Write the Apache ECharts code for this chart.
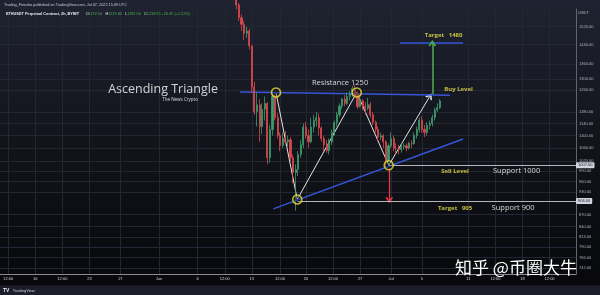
<!DOCTYPE html>
<html><head><meta charset="utf-8">
<script src="https://cdn.jsdelivr.net/npm/echarts@6/dist/echarts.min.js"></script>
<style>html,body{margin:0;padding:0;background:#0c0d12}#c{width:600px;height:295px}</style>
</head><body><div id="c"></div>
<script>
// ---- candle data (8h candles, ETHUSDT) ----
const candleTimes = [
'2022-06-10 00:00','2022-06-10 08:00','2022-06-10 16:00','2022-06-11 00:00','2022-06-11 08:00','2022-06-11 16:00',
'2022-06-12 00:00','2022-06-12 08:00','2022-06-12 16:00','2022-06-13 00:00','2022-06-13 08:00','2022-06-13 16:00',
'2022-06-14 00:00','2022-06-14 08:00','2022-06-14 16:00','2022-06-15 00:00','2022-06-15 08:00','2022-06-15 16:00',
'2022-06-16 00:00','2022-06-16 08:00','2022-06-16 16:00','2022-06-17 00:00','2022-06-17 08:00','2022-06-17 16:00',
'2022-06-18 00:00','2022-06-18 08:00','2022-06-18 16:00','2022-06-19 00:00','2022-06-19 08:00','2022-06-19 16:00',
'2022-06-20 00:00','2022-06-20 08:00','2022-06-20 16:00','2022-06-21 00:00','2022-06-21 08:00','2022-06-21 16:00',
'2022-06-22 00:00','2022-06-22 08:00','2022-06-22 16:00','2022-06-23 00:00','2022-06-23 08:00','2022-06-23 16:00',
'2022-06-24 00:00','2022-06-24 08:00','2022-06-24 16:00','2022-06-25 00:00','2022-06-25 08:00','2022-06-25 16:00',
'2022-06-26 00:00','2022-06-26 08:00','2022-06-26 16:00','2022-06-27 00:00','2022-06-27 08:00','2022-06-27 16:00',
'2022-06-28 00:00','2022-06-28 08:00','2022-06-28 16:00','2022-06-29 00:00','2022-06-29 08:00','2022-06-29 16:00',
'2022-06-30 00:00','2022-06-30 08:00','2022-06-30 16:00','2022-07-01 00:00','2022-07-01 08:00','2022-07-01 16:00',
'2022-07-02 00:00','2022-07-02 08:00','2022-07-02 16:00','2022-07-03 00:00','2022-07-03 08:00','2022-07-03 16:00',
'2022-07-04 00:00','2022-07-04 08:00','2022-07-04 16:00','2022-07-05 00:00','2022-07-05 08:00','2022-07-05 16:00',
'2022-07-06 00:00','2022-07-06 08:00','2022-07-06 16:00','2022-07-07 00:00','2022-07-07 08:00'];
const opens = [1790,1770,1700,1665,1620,1560,1530,1490,1500,1435,1270,1180,1205,1130,1190,1210,1030,1120,
1235,1160,1100,1068,1090,1080,1086,1030,985,995,1040,1070,1128,1100,1080,1128,1150,1160,1125,1090,1070,
1052,1080,1110,1143,1170,1200,1226,1210,1235,1243,1265,1245,1199,1220,1200,1193,1205,1170,1144,1120,1095,
1099,1080,1020,1067,1090,1060,1059,1055,1065,1067,1060,1075,1074,1100,1120,1151,1120,1110,1134,1140,1160,1187,1195];
const closes = [1770,1700,1665,1620,1560,1530,1490,1500,1435,1270,1180,1205,1130,1190,1210,1030,1120,1235,
1160,1100,1068,1090,1080,1086,1030,985,995,1040,1070,1128,1100,1080,1128,1150,1160,1125,1090,1070,1052,
1080,1110,1143,1170,1200,1226,1210,1235,1243,1265,1245,1199,1220,1200,1193,1205,1170,1144,1120,1095,1099,
1080,1020,1067,1090,1060,1059,1055,1065,1067,1060,1075,1074,1100,1120,1151,1120,1110,1134,1140,1160,1187,1195,1218.95];
const lows = [1760,1690,1650,1600,1545,1500,1460,1470,1420,1250,1170,1130,1080,1105,1150,1010,1015,1100,
1150,1090,1050,1060,1070,1065,1020,955,880,975,1030,1060,1090,1060,1075,1110,1130,1100,1080,1050,1045,
1040,1070,1100,1130,1160,1190,1200,1205,1220,1235,1230,1190,1195,1185,1170,1185,1160,1135,1110,1080,1085,
1060,1000,1010,1060,1050,1040,1040,1045,1055,1050,1055,1060,1070,1090,1110,1110,1095,1100,1120,1130,1150,1180,1190];
const highs = [1800,1775,1710,1680,1630,1575,1545,1520,1510,1440,1290,1250,1225,1210,1235,1215,1135,1250,
1245,1175,1110,1110,1115,1100,1095,1040,1010,1050,1085,1140,1145,1120,1160,1170,1180,1175,1130,1100,1085,
1090,1120,1150,1180,1210,1230,1240,1250,1255,1275,1280,1255,1235,1225,1215,1230,1215,1180,1150,1130,1110,
1105,1085,1075,1110,1100,1075,1070,1075,1075,1075,1080,1085,1110,1130,1160,1165,1135,1145,1150,1170,1195,1210,1225];

// ---- axes ----
const xRange = ['2022-05-11 10:30', '2022-07-24 22:00'];
const priceRange = [729.5, 1601];
const priceTicks = [1520,1440,1360,1300,1260,1180,1140,1100,1060,1020,990,960,930,870,840,814,790,766,742];
const timeTicks = ['2022-05-12 12:00','2022-05-16 00:00','2022-05-19 12:00','2022-05-23 00:00','2022-05-27 00:00',
'2022-06-01 00:00','2022-06-06 00:00','2022-06-09 12:00','2022-06-13 00:00','2022-06-16 15:30','2022-06-20 00:00',
'2022-06-23 12:00','2022-06-27 00:00','2022-07-01 00:00','2022-07-05 00:00','2022-07-11 00:00','2022-07-14 12:00',
'2022-07-18 00:00','2022-07-21 12:00'];
const timeTickLabels = ['12:00','16','12:00','23','27','Jun','6','12:00','13','12:00','20','12:00','27','Jul','5','11','12:00','18','12:00'];

// ---- drawings ----
const pivotTimes = ['2022-06-16 03:00','2022-06-18 21:00','2022-06-26 13:40','2022-06-30 16:50'];
const pivotPrices = [1250, 910, 1250, 1007];
const legEndTime = '2022-07-06 01:00', legEndPrice = 1237;
const resistanceTimes = ['2022-06-11 11:20','2022-07-08 15:10'], resistancePrices = [1252, 1240];
const supportTimes = ['2022-06-15 18:45','2022-07-10 07:30'], supportPrices = [885, 1089];
const target1480Times = ['2022-07-02 04:00','2022-07-10 07:30'], target1480Price = 1450;
const buyArrowTime = '2022-07-06 08:10', buyArrowPrices = [1244, 1447];
const sellArrowTime = '2022-06-30 18:30', sellArrowPrices = [998, 908];
const support1000Price = 1007, target905Price = 906;
const whiteNotes = ['Resistance 1250','Support 1000','Support 900'];
const whiteNoteTimes = ['2022-06-24 09:50','2022-07-17 05:30','2022-07-16 18:40'];
const whiteNotePrices = [1285, 990, 887];
const yellowNotes = ['Target   1480','Buy Level','Sell Level','Target   905'];
const yellowNoteTimes = ['2022-07-07 19:00','2022-07-09 17:30','2022-07-09 06:40','2022-07-09 06:40'];
const yellowNotePrices = [1483, 1263, 990, 887];
const titleNote = 'Ascending Triangle', titleTime = '2022-06-01 12:25', titlePrice = 1263;
const subNote = 'The News Crypto', subTime = '2022-06-03 17:15', subPrice = 1222;

const t = s => new Date(s.replace(' ', 'T') + ':00').getTime();
const L = v => Math.log(v);
const tickTimes = timeTicks.map(t);

const candleData = candleTimes.map((s, i) => [t(s), L(opens[i]), L(closes[i]), L(lows[i]), L(highs[i])]);
const lastClose = closes[closes.length - 1];
const chev = 'path://M0,10 L5,0 L10,10 L7.6,10 L5,4.4 L2.4,10 Z';

const P = (time, price) => ({ coord: [t(time), L(price)] });
const seg = (a, b, style, endArrow) => {
  const s = P(a[0], a[1]), e = P(b[0], b[1]);
  s.lineStyle = style;
  if (endArrow) { e.symbol = chev; e.symbolSize = [8, 6]; }
  return [s, e];
};
const white = { color: '#e4e4e4', width: 1, type: 'solid' };
const blue = { color: '#3656d8', width: 1.5, type: 'solid' };
const gray = { color: '#b2b5be', width: 1, type: 'solid' };
const badge = txt => ({ show: true, position: 'end', distance: 0, formatter: txt, backgroundColor: '#d1d4dc',
  color: '#131722', fontSize: 4, fontFamily: 'Liberation Sans', padding: [1, 2, 1, 2], borderRadius: 1 });

const legs = [];
for (let i = 0; i < pivotTimes.length - 1; i++) {
  legs.push(seg([pivotTimes[i], pivotPrices[i]], [pivotTimes[i + 1], pivotPrices[i + 1]], white, false));
}
legs.push(seg([pivotTimes[3], pivotPrices[3]], [legEndTime, legEndPrice], white, true));

const lines = [
  ...legs,
  seg([resistanceTimes[0], resistancePrices[0]], [resistanceTimes[1], resistancePrices[1]], blue, false),
  seg([supportTimes[0], supportPrices[0]], [supportTimes[1], supportPrices[1]], blue, false),
  seg([target1480Times[0], target1480Price], [target1480Times[1], target1480Price], blue, false),
  seg([buyArrowTime, buyArrowPrices[0]], [buyArrowTime, buyArrowPrices[1]], { color: '#4caf50', width: 1.5, type: 'solid' }, true),
  seg([sellArrowTime, sellArrowPrices[0]], [sellArrowTime, sellArrowPrices[1]], { color: '#f23645', width: 1.2, type: 'solid' }, true),
];
const s1000 = seg([pivotTimes[3], support1000Price], [xRange[1], support1000Price], gray, false);
s1000[0].label = badge(support1000Price.toFixed(2));
const s905 = seg([pivotTimes[1], target905Price], [xRange[1], target905Price], gray, false);
s905[0].label = badge(target905Price.toFixed(2));
lines.push(s1000, s905);

const textSeries = (names, times, prices, label) => ({
  type: 'scatter', symbolSize: 0, z: 20, silent: true,
  data: names.map((n, i) => ({ name: n, value: [t(times[i]), L(prices[i])] })),
  label: Object.assign({ show: true, position: 'inside', formatter: p => p.name }, label)
});

const chart = echarts.init(document.getElementById('c'), null, { renderer: 'canvas' });
chart.setOption({
  animation: false,
  backgroundColor: 'transparent',
  grid: { left: 0, right: 24, top: 9, bottom: 21 },
  xAxis: {
    type: 'value', min: t(xRange[0]), max: t(xRange[1]), scale: true,
    axisLine: { show: true, onZero: false, lineStyle: { color: '#8a8d96', width: 1 } },
    axisTick: { show: false, customValues: tickTimes },
    axisLabel: { customValues: tickTimes, formatter: v => { const k = tickTimes.indexOf(v); return k < 0 ? '' : timeTickLabels[k]; },
      color: '#d1d4dc', fontSize: 4, fontFamily: 'Liberation Sans', margin: 3, hideOverlap: false },
    splitLine: { show: true, lineStyle: { color: '#232733', width: 1 } }
  },
  yAxis: {
    type: 'value', position: 'right', min: L(priceRange[0]), max: L(priceRange[1]), scale: true,
    axisLine: { show: true, lineStyle: { color: '#62656f', width: 1 } },
    axisTick: { show: false, customValues: priceTicks.map(L) },
    axisLabel: { customValues: priceTicks.map(L), formatter: v => Math.exp(v).toFixed(2),
      color: '#b2b5be', fontSize: 4, fontFamily: 'Liberation Sans', margin: 3, hideOverlap: false },
    splitLine: { show: true, lineStyle: { color: '#232733', width: 1 } }
  },
  series: [
    {
      type: 'candlestick', data: candleData, barWidth: 1.6, clip: true, z: 5,
      itemStyle: { color: '#3d9a6c', color0: '#d9474d', borderColor: '#3d9a6c', borderColor0: '#d9474d', borderWidth: 0.8 },
      markLine: {
        silent: true, symbol: ['none', 'none'],
        lineStyle: { opacity: 0 },
        data: [{ yAxis: L(lastClose) }],
        label: { show: true, position: 'end', distance: 0,
          formatter: () => '{a|' + lastClose.toFixed(2) + '}\n{b|00:10:11}',
          backgroundColor: '#43a047', padding: [1, 2, 1, 2], borderRadius: 1,
          rich: { a: { color: '#fff', fontSize: 4, fontFamily: 'Liberation Sans', lineHeight: 4.5 },
                  b: { color: '#e8f5e9', fontSize: 3.2, fontFamily: 'Liberation Sans', lineHeight: 4 } } }
      }
    },
    {
      type: 'line', data: [], z: 10,
      markLine: {
        silent: true, symbol: ['none', 'none'], animation: false,
        lineStyle: { type: 'solid' },
        label: { show: false },
        data: lines
      }
    },
    {
      type: 'scatter', z: 15, silent: true, symbol: 'circle', symbolSize: 9,
      data: pivotTimes.map((s, i) => [t(s), L(pivotPrices[i])]),
      itemStyle: { color: 'rgba(10,10,10,0.35)', borderColor: '#e8e337', borderWidth: 1.6 }
    },
    textSeries(whiteNotes, whiteNoteTimes, whiteNotePrices, { color: '#ffffff', fontSize: 7.5, fontFamily: 'Open Sans' }),
    textSeries(yellowNotes, yellowNoteTimes, yellowNotePrices, { color: '#ebe34e', fontSize: 6, fontWeight: 'bold', fontFamily: 'Open Sans' }),
    textSeries([titleNote], [titleTime], [titlePrice], { color: '#ffffff', fontSize: 12.5, fontFamily: 'Open Sans' }),
    textSeries([subNote], [subTime], [subPrice], { color: '#ffffff', fontSize: 4.5, fontFamily: 'Open Sans' })
  ],
  graphic: [
    { type: 'rect', z: -100, silent: true, shape: { x: 0, y: 0, width: 600, height: 295 },
      style: { fill: new echarts.graphic.LinearGradient(0, 0, 0, 1, [
        { offset: 0, color: '#1f2331' }, { offset: 0.45, color: '#13151c' }, { offset: 0.93, color: '#08090c' }, { offset: 1, color: '#08090c' }]) } },
    { type: 'rect', z: -50, silent: true, shape: { x: 0, y: 274.5, width: 600, height: 11 }, style: { fill: '#09090c' } },
    { type: 'rect', z: -50, silent: true, shape: { x: 0, y: 285.5, width: 600, height: 10 }, style: { fill: '#1c1f2a' } },
    { type: 'text', z: 50, silent: true, style: { x: 4, y: 5, text: 'Trading_Finesko published on TradingView.com, Jul 07, 2022 15:49 UTC',
      fill: '#c9ccd4', fontSize: 3.8, fontFamily: 'Liberation Sans', verticalAlign: 'middle' } },
    { type: 'text', z: 50, silent: true, style: { x: 6, y: 14, verticalAlign: 'middle',
      text: '{w|ETHUSDT Perpetual Contract, 2h, BYBIT}  {k|O}{g|1192.50} {k|H}{g|1219.80} {k|L}{g|1192.50} {k|C}{g|1218.95 +26.45 (+2.22%)}',
      rich: { w: { fill: '#e6e8ee', fontSize: 3.8, fontWeight: 'bold', fontFamily: 'Liberation Sans' },
              k: { fill: '#e6e8ee', fontSize: 3.8, fontFamily: 'Liberation Sans' },
              g: { fill: '#4caf50', fontSize: 3.8, fontFamily: 'Liberation Sans' } } } },
    { type: 'text', z: 50, silent: true, style: { x: 578, y: 13, text: 'USDT', fill: '#b2b5be', fontSize: 4, fontFamily: 'Liberation Sans', verticalAlign: 'middle' } },
    { type: 'text', z: 50, silent: true, style: { x: 3, y: 290.5, text: '{i|TV} {n|TradingView}', verticalAlign: 'middle',
      rich: { i: { fill: '#e6e8ee', fontSize: 5, fontWeight: 'bold', fontFamily: 'Liberation Sans' },
              n: { fill: '#c9ccd4', fontSize: 4, fontFamily: 'Liberation Sans' } } } },
    { type: 'text', z: 200, silent: true, style: { x: 455, y: 268, text: '知乎 @币圈大牛', fill: '#ffffff', fontSize: 17,
      fontFamily: 'Noto Sans CJK SC', verticalAlign: 'middle' } }
  ]
});
</script></body></html>
